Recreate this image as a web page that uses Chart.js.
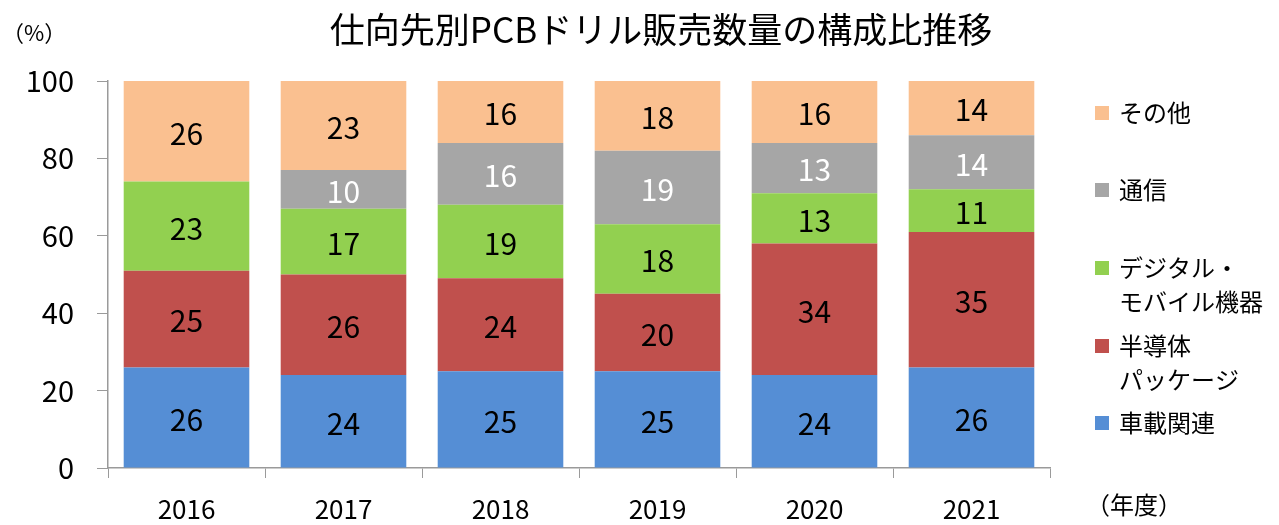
<!DOCTYPE html>
<html lang="ja">
<head>
  <meta charset="UTF-8">
  <title>仕向先別PCBドリル販売数量の構成比推移</title>
  <script src="https://cdn.jsdelivr.net/npm/chart.js"></script>
  <style>
    body { margin: 0; background: #fff; }
    #wrap { width: 1279px; height: 525px; }
  </style>
</head>
<body>
  <div id="wrap"><canvas id="drillChart" width="1279" height="525"></canvas></div>

  <script>
    // データ
    const years = ['2016', '2017', '2018', '2019', '2020', '2021'];
    const shaSai = [26, 24, 25, 25, 24, 26];        // 車載関連
    const handotai = [25, 26, 24, 20, 34, 35];      // 半導体パッケージ
    const digital = [23, 17, 19, 18, 13, 11];       // デジタル・モバイル機器
    const tsushin = [0, 10, 16, 19, 13, 14];        // 通信
    const sonota = [26, 23, 16, 18, 16, 14];        // その他
    const yTicks = [0, 20, 40, 60, 80, 100];

    const FONT = '"Noto Sans CJK JP", "Noto Sans", sans-serif';

    const datasets = [
      { label: ['車載関連'], data: shaSai, backgroundColor: '#558ED5', labelColor: '#000' },
      { label: ['半導体', 'パッケージ'], data: handotai, backgroundColor: '#C0504D', labelColor: '#000' },
      { label: ['デジタル・', 'モバイル機器'], data: digital, backgroundColor: '#92D050', labelColor: '#000' },
      { label: ['通信'], data: tsushin, backgroundColor: '#A6A6A6', labelColor: '#fff' },
      { label: ['その他'], data: sonota, backgroundColor: '#FAC090', labelColor: '#000' }
    ];

    // 数値ラベル・タイトル・凡例を描く
    const extras = {
      id: 'extras',
      afterDatasetsDraw(chart) {
        const ctx = chart.ctx;
        ctx.save();
        ctx.textAlign = 'center';
        ctx.textBaseline = 'middle';
        ctx.font = '30px ' + FONT;
        chart.data.datasets.forEach((ds, i) => {
          const meta = chart.getDatasetMeta(i);
          meta.data.forEach((bar, j) => {
            if (!ds.data[j]) return;
            ctx.fillStyle = ds.labelColor;
            ctx.fillText(ds.data[j], bar.x, (bar.y + bar.base) / 2 + 2);
          });
        });

        // タイトル
        ctx.fillStyle = '#000';
        ctx.font = '35px ' + FONT;
        ctx.fillText('仕向先別PCBドリル販売数量の構成比推移', 661, 30);

        ctx.font = '22px ' + FONT;
        ctx.textAlign = 'left';
        ctx.fillText('（%）', 2, 33);
        ctx.font = '24px ' + FONT;
        ctx.fillText('（年度）', 1086, 505);

        // 凡例（上から その他 → 車載関連）
        const rows = [
          { ds: 4, y: 113 },
          { ds: 3, y: 190 },
          { ds: 2, y: 268 },
          { ds: 1, y: 346 },
          { ds: 0, y: 423 }
        ];
        rows.forEach(r => {
          const ds = chart.data.datasets[r.ds];
          ctx.fillStyle = ds.backgroundColor;
          ctx.fillRect(1095, r.y - 7, 14, 14);
          ctx.fillStyle = '#000';
          ds.label.forEach((t, k) => ctx.fillText(t, 1119, r.y + k * 34));
        });
        ctx.restore();
      }
    };

    const ctx = document.getElementById('drillChart').getContext('2d');
    new Chart(ctx, {
      type: 'bar',
      data: { labels: years, datasets: datasets },
      options: {
        responsive: false,
        animation: false,
        layout: { padding: { left: 0, right: 229, top: 81, bottom: 0 } },
        plugins: { legend: { display: false }, tooltip: { enabled: false } },
        datasets: { bar: { categoryPercentage: 0.8, barPercentage: 1 } },
        scales: {
          x: {
            stacked: true,
            grid: { offset: true, drawOnChartArea: false, drawTicks: true, tickLength: 10, color: '#9a9a9a' },
            border: { display: true, color: '#9a9a9a', width: 1.5 },
            ticks: { color: '#000', font: { family: FONT, size: 26 }, padding: 16 },
            afterFit(scale) { scale.height = 57; }
          },
          y: {
            stacked: true,
            min: 0,
            max: 100,
            afterBuildTicks(scale) { scale.ticks = yTicks.map(v => ({ value: v })); },
            grid: { drawOnChartArea: false, drawTicks: true, tickLength: 11, color: '#9a9a9a' },
            border: { display: true, color: '#9a9a9a', width: 1.5 },
            ticks: { color: '#000', font: { family: FONT, size: 29 }, padding: 23 },
            afterFit(scale) { scale.width = 108; }
          }
        }
      },
      plugins: [extras]
    });
  </script>
</body>
</html>
